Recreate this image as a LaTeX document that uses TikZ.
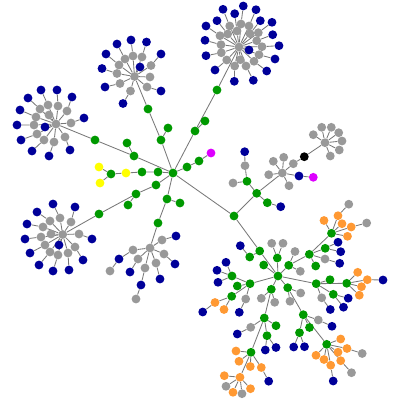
\documentclass[tikz,border=0pt]{standalone}
\usepackage{tikz}
\usetikzlibrary{backgrounds}
\usepackage{xcolor}
\definecolor{webgreen}{RGB}{0,153,0}
\definecolor{webblue}{RGB}{0,0,153}
\definecolor{webgray}{RGB}{153,153,153}
\definecolor{weborange}{RGB}{255,153,51}
\definecolor{webyellow}{RGB}{255,255,0}
\definecolor{webviolet}{RGB}{221,0,255}
\definecolor{linkgray}{RGB}{120,120,120}
\tikzset{
    % tag dots
    dot/.style={circle, inner sep=0pt, minimum size=2.2mm, draw=none, fill=#1},
    % links between tags
    link/.style={draw=linkgray, line width=0.6pt},
}
\begin{document}
\begin{tikzpicture}[x=0.25mm, y=-0.25mm]
\useasboundingbox (0,0) rectangle (400,400);

% Root and its arms
\node[dot=webgreen] (root) at (173,173) {};
\node[dot=webgreen] (ul1) at (161,140) {};
\node[dot=webgreen] (ul2) at (148,109) {};
\node[dot=webgreen] (ul1a) at (168,128) {};
\node[dot=webgreen] (ur1) at (195,131) {};
\node[dot=webgreen] (ur2) at (217,90) {};
\node[dot=webgreen] (ur1a) at (205,121) {};
\node[dot=webgreen] (vi1) at (187,167) {};
\node[dot=webgreen] (vi2) at (199,161) {};
\node[dot=webviolet] (vi3) at (211,153) {};
\node[dot=webgreen] (fo1) at (158,172) {};
\node[dot=webgreen] (fo2) at (142,172) {};
\node[dot=webyellow] (fo3) at (126,173) {};
\node[dot=webgreen] (fo4) at (111,174) {};
\node[dot=webyellow] (fo5) at (99,167) {};
\node[dot=webyellow] (fo6) at (100,183) {};
\node[dot=webgreen] (le1) at (134,156) {};
\node[dot=webgreen] (le2) at (95,140) {};
\node[dot=webgreen] (le1a) at (127,143) {};
\node[dot=webgreen] (dl1) at (156,185) {};
\node[dot=webgreen] (dl2) at (136,194) {};
\node[dot=webgreen] (dl3) at (99,214) {};
\node[dot=webgreen] (dl2a) at (128,205) {};
\node[dot=webgreen] (dn1) at (167,199) {};
\node[dot=webgreen] (dn2) at (158,223) {};
\node[dot=webgreen] (dn1a) at (180,203) {};
\node[dot=webgreen] (dr1) at (234,216) {};

% Top right star
\node[dot=webgray] (tr) at (239,47) {};
\node[dot=webblue] (trc) at (249,50) {};
\node[dot=webgray] (trl) at (240.3,59.7) {};
\foreach \gx/\gy/\bx/\by [count=\i] in {229.7/26/223/9.3, 241/24/243.3/6, 237/31/234.7/13.7,
    249/26/256/9.7, 227.7/34/217/20.7, 250/33.7/260.3/20.7, 258.3/32.7/272/22.3, 220/35.7/206/26,
    256.7/40.7/272.7/34.7, 221/44.7/205/40.3, 262/46.7/279/45.7, 221.3/52.7/206/55.7,
    259/54.7/275/59, 226.7/60/215/70, 254/61.3/266.7/71, 234.7/66/234.3/81.3, 246/66/253.3/80.3}{
  \node[dot=webgray] (trg\i) at (\gx,\gy) {};
  \node[dot=webblue] (trb\i) at (\bx,\by) {};
}

% Top left star
\node[dot=webgray] (tl) at (134.5,76.5) {};
\node[dot=webblue] (tlc) at (140,67) {};
\node[dot=webgray] (tll) at (150,77) {};
\foreach \gx/\gy/\bx/\by [count=\i] in {125/59/117/44, 133/56/131/40, 142/57/146.5/42,
    151/65.5/161/54, 119/65/106/54, 117/73.5/102/68.5, 120/83.5/105/87, 130.5/91/123/103.5,
    147/87/161/91}{
  \node[dot=webgray] (tlg\i) at (\gx,\gy) {};
  \node[dot=webblue] (tlb\i) at (\bx,\by) {};
}

% Left star
\node[dot=webgray] (ls) at (56,124) {};
\node[dot=webblue] (lsc) at (45,127) {};
\node[dot=webgray] (lsl) at (49,115) {};
\foreach \gx/\gy/\bx/\by [count=\i] in {48/105/41/90, 58/106/57/90, 40/109/28/98, 67/111/72/97,
    36/117/20/110, 71/123/84/118, 34/125/17/125, 37/134/21/140, 44/140/32/151, 54/142/49/156,
    65/137/70/150}{
  \node[dot=webgray] (lsg\i) at (\gx,\gy) {};
  \node[dot=webblue] (lsb\i) at (\bx,\by) {};
}

% Lower left star
\node[dot=webgray] (ll) at (62.7,234.5) {};
\node[dot=webblue] (llc) at (59,245) {};
\node[dot=webgray] (lll) at (51,234) {};
\foreach \gx/\gy/\bx/\by [count=\i] in {60/218/53/204, 71/222/75/207, 50/221/37/212,
    43/227/27/224, 41/237/25/239, 45/245/30/253, 50/252/39/265, 58/255/53/271, 68/253/69/270,
    75/247/83/260, 79/234/92/239}{
  \node[dot=webgray] (llg\i) at (\gx,\gy) {};
  \node[dot=webblue] (llb\i) at (\bx,\by) {};
}

% Bottom middle star
\node[dot=webgray] (bm) at (150,248) {};
\foreach \gx/\gy/\bx/\by [count=\i] in {162/240/176/236, 164/254/175/264, 156/263/160/279,
    138/259/130/272, 145/268/141/285, 133/250/119/259}{
  \node[dot=webgray] (bmg\i) at (\gx,\gy) {};
  \node[dot=webblue] (bmb\i) at (\bx,\by) {};
}
\node[dot=webgray] (bmx1) at (136,299) {};
\node[dot=webgray] (bmx2) at (110,271) {};

% Right stars
\node[dot=webgreen] (mr1) at (256.7,193.3) {};
\node[dot=webgreen] (mr2) at (247,181.3) {};
\node[dot=webgray] (mr3) at (245,165.7) {};
\node[dot=webblue] (mr4) at (244.7,151.7) {};
\node[dot=webgray] (mr5) at (233,183) {};
\node[dot=webgreen] (mr6) at (267.3,202.7) {};
\node[dot=webblue] (mr7) at (280.7,206.7) {};
\node[dot=webgray] (rb) at (282.3,173) {};
\foreach \x/\y [count=\i] in {273.3/161.3, 283.7/157.3, 268.7/174.7, 289/185.7}
  \node[dot=webgray] (rbg\i) at (\x,\y) {};
\node[dot=webgray] (rb1) at (293.3,163.7) {};
\node[dot=black] (html) at (304.3,156.7) {};
\node[dot=webblue] (rb2) at (299,176) {};
\node[dot=webviolet] (rb3) at (313.3,177.3) {};
\node[dot=webgray] (ra) at (325,142.7) {};
\foreach \x/\y [count=\i] in {313.3/134.7, 321.7/127.3, 331.3/127.3, 338.7/132.7, 342/141,
    339.3/150, 330.3/156}
  \node[dot=webgray] (rag\i) at (\x,\y) {};

% Big lower right tree
\node[dot=webgreen] (br) at (278,276) {};
\foreach \n/\x/\y in {bn/277.3/258, bw0/259.7/251, bw1/249.7/257, bw3/263.7/265, bx0/250/283.7,
    bx1/232/276, bx2/237.3/286, bx3/231.7/296.3, bs1/271.3/289.3, bs2/264.3/318, bs2c/276/325.7,
    bs2d/267/335.7, bs3/251/352.3, be1/287.7/287.7, be2/303.3/314.7, be2c/309.5/327.5,
    be2d/299.5/332.7, be3/326.7/344.3, bf1/316.2/283.7, bf1a/330/279.7, bf1b/333.3/294.3,
    bf2/346.7/283.3, bg1/288.7/265.3, bg2/309.3/254.3, bg2a/325.2/248.3, bg2f/315.7/266,
    bg3/331.5/233.3}
  \node[dot=webgreen] (\n) at (\x,\y) {};
\foreach \n/\x/\y in {bn1/271.7/243.3, bn2/283/243.3, bx4/245.7/299, bs1a/261.3/298.3,
    bs1b/274.7/302.3, bs2a/250.7/327.3, bs4b/226/386.3, bs4d/242/393.7, be1a/290/301.3,
    be1b/300.7/293, be2a/318.3/320, be3h/362.2/353.5, be3i/351.5/372.7, bf1e/321.7/297.8,
    bg1a/295/251.5, bg1b/300.3/271.3, bg2d/325/259, bg3f/348.8/204.2, bg3g/366.7/223}
  \node[dot=webgray] (\n) at (\x,\y) {};
\foreach \n/\x/\y in {bw2/240.3/245.7, bx1a/226/262.3, bx1b/217/270.3, bx1c/218/282.3,
    bx3c/202.7/312, bx4a/239.3/312.3, bs2b/237.3/334, bs2e/265.3/350, bs2f/276/347.5,
    bs3e/268.7/381.2, be2b/332/326.3, be2e/293.7/347, be2f/304.5/346.7, be3j/333.2/381,
    bf1c/348.2/298.2, bf1d/343.5/307.2, bf1f/330.3/309.5, bf2e/383/280, bg2b/338/242.2,
    bg2c/340.7/251.7, bg2e/339.7/263.3}
  \node[dot=webblue] (\n) at (\x,\y) {};
\foreach \n/\x/\y in {bx3a/215/302.5, bx3b/224/309.5, bs3a/236/351, bs3b/239/361.3,
    bs3c/250.3/366.5, bs3d/261.3/367.5, bs4/240/377.3, bs4a/224.3/375.7, bs4c/233/392.3,
    bs4e/250.5/388.7, be3a/340.7/339, be3b/347/348.5, be3c/338/352.2, be3d/316/355.3,
    be3e/324/359.5, be3f/340.7/360.7, be3g/330.7/365.2, bf2a/357.7/272.3, bf2b/367.3/279.7,
    bf2c/361.5/286.7, bf2d/359.3/295.2, bg3a/338/215.7, bg3b/324/220.5, bg3c/342/223.7,
    bg3d/351.2/227, bg3e/347.5/236.3}
  \node[dot=weborange] (\n) at (\x,\y) {};

\begin{scope}[on background layer]
% Arms from the root
\draw[link] (root) -- (ul1) -- (ul2) -- (tl);
\draw[link] (ul1) -- (ul1a);
\draw[link] (root) -- (ur1) -- (ur2) -- (tr);
\draw[link] (ur1) -- (ur1a);
\draw[link] (root) -- (vi1) -- (vi2) -- (vi3);
\draw[link] (root) -- (fo1) -- (fo2) -- (fo3) -- (fo4) -- (fo5);
\draw[link] (fo4) -- (fo6);
\draw[link] (root) -- (le1) -- (le2) -- (ls);
\draw[link] (le1) -- (le1a);
\draw[link] (root) -- (dl1) -- (dl2) -- (dl3) -- (ll);
\draw[link] (dl2) -- (dl2a);
\draw[link] (root) -- (dn1) -- (dn2) -- (bm);
\draw[link] (dn1) -- (dn1a);
\draw[link] (root) -- (dr1) -- (bw0) -- (br);

% Stars
\draw[link] (tr) -- (trc);  \draw[link] (tr) -- (trl);
\foreach \i in {1,...,17} \draw[link] (tr) -- (trg\i) -- (trb\i);
\draw[link] (tl) -- (tlc);  \draw[link] (tl) -- (tll);
\foreach \i in {1,...,9} \draw[link] (tl) -- (tlg\i) -- (tlb\i);
\draw[link] (ls) -- (lsc);  \draw[link] (ls) -- (lsl);
\foreach \i in {1,...,11} \draw[link] (ls) -- (lsg\i) -- (lsb\i);
\draw[link] (ll) -- (llc);  \draw[link] (ll) -- (lll);
\foreach \i in {1,...,11} \draw[link] (ll) -- (llg\i) -- (llb\i);
\foreach \i in {1,...,6} \draw[link] (bm) -- (bmg\i) -- (bmb\i);
\draw[link] (bmb5) -- (bmx1);
\draw[link] (bmb6) -- (bmx2);

% Right stars
\draw[link] (dr1) -- (mr1) -- (rb);
\draw[link] (mr1) -- (mr2) -- (mr3) -- (mr4);
\draw[link] (mr2) -- (mr5);
\draw[link] (mr1) -- (mr6) -- (mr7);
\foreach \i in {1,...,4} \draw[link] (rb) -- (rbg\i);
\draw[link] (rb) -- (rb1) -- (html) -- (ra);
\draw[link] (rb) -- (rb2) -- (rb3);
\foreach \i in {1,...,7} \draw[link] (ra) -- (rag\i);

% Lower right tree
\foreach \n in {bn, bw3, bx0, bs1, be1, bf1, bg1} \draw[link] (br) -- (\n);
\draw[link] (bn) -- (bn1);  \draw[link] (bn) -- (bn2);
\draw[link] (bw0) -- (bw1) -- (bw2);
\foreach \n in {bx1, bx2, bx3, bx4} \draw[link] (bx0) -- (\n);
\foreach \n in {bx1a, bx1b, bx1c} \draw[link] (bx1) -- (\n);
\draw[link] (bx3) -- (bx3a) -- (bx3c);
\draw[link] (bx3) -- (bx3b);
\draw[link] (bx4) -- (bx4a);
\draw[link] (bs1) -- (bs2) -- (bs3) -- (bs4);
\draw[link] (bs1) -- (bs1a);  \draw[link] (bs1) -- (bs1b);
\draw[link] (bs2) -- (bs2a) -- (bs2b);
\draw[link] (bs2) -- (bs2c);
\draw[link] (bs2) -- (bs2d) -- (bs2e);
\draw[link] (bs2d) -- (bs2f);
\foreach \n in {bs3a, bs3b, bs3c, bs3d} \draw[link] (bs3) -- (\n);
\draw[link] (bs3d) -- (bs3e);
\foreach \n in {bs4a, bs4b, bs4c, bs4d, bs4e} \draw[link] (bs4) -- (\n);
\draw[link] (be1) -- (be2) -- (be3);
\draw[link] (be1) -- (be1a);  \draw[link] (be1) -- (be1b);
\draw[link] (be2) -- (be2a) -- (be2b);
\draw[link] (be2) -- (be2c);
\draw[link] (be2) -- (be2d) -- (be2e);
\draw[link] (be2d) -- (be2f);
\foreach \n in {be3a, be3b, be3c, be3d, be3e, be3f, be3g} \draw[link] (be3) -- (\n);
\draw[link] (be3b) -- (be3h);
\draw[link] (be3f) -- (be3i);
\draw[link] (be3g) -- (be3j);
\draw[link] (bf1) -- (bf2);
\draw[link] (bf1) -- (bf1a);
\draw[link] (bf1) -- (bf1b) -- (bf1c);
\draw[link] (bf1b) -- (bf1d);
\draw[link] (bf1) -- (bf1e) -- (bf1f);
\foreach \n in {bf2a, bf2b, bf2c, bf2d} \draw[link] (bf2) -- (\n);
\draw[link] (bf2b) -- (bf2e);
\draw[link] (bg1) -- (bg2) -- (bg3);
\draw[link] (bg1) -- (bg1a);  \draw[link] (bg1) -- (bg1b);
\draw[link] (bg2) -- (bg2a) -- (bg2b);
\draw[link] (bg2a) -- (bg2c);
\draw[link] (bg2) -- (bg2d) -- (bg2e);
\draw[link] (bg2) -- (bg2f);
\foreach \n in {bg3a, bg3b, bg3c, bg3d, bg3e} \draw[link] (bg3) -- (\n);
\draw[link] (bg3a) -- (bg3f);
\draw[link] (bg3d) -- (bg3g);
\end{scope}
\end{tikzpicture}
\end{document}
